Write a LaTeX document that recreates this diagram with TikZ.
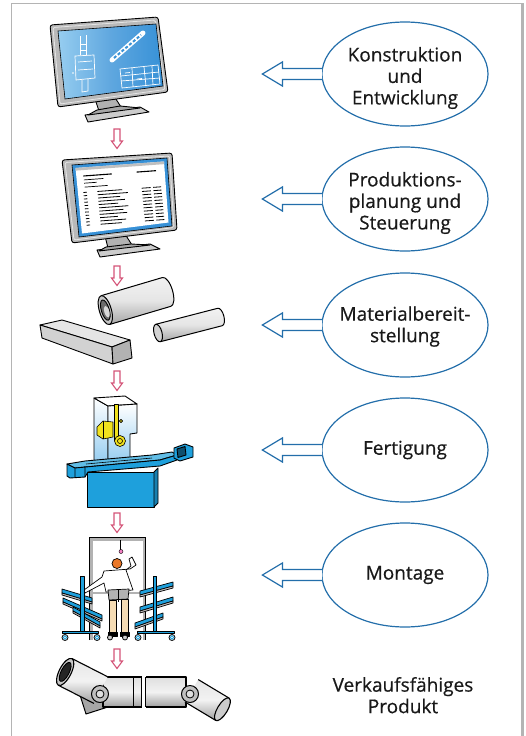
\documentclass[tikz,border=0pt]{standalone}
\usepackage{fontspec}
\setmainfont{Open Sans}
\newfontfamily\labelfont{Open Sans}[FakeBold=0.5]
\usetikzlibrary{shapes.geometric,calc}
\definecolor{eblue}{RGB}{35,110,170}
\definecolor{apink}{RGB}{212,84,120}
\definecolor{framegray}{RGB}{180,180,180}
\definecolor{scrA}{RGB}{55,145,215}
\definecolor{scrB}{RGB}{150,205,240}
\definecolor{mblue}{RGB}{30,160,220}
\definecolor{lblue}{RGB}{150,205,240}
\definecolor{myellow}{RGB}{240,225,30}
\definecolor{skin}{RGB}{245,220,180}
\definecolor{orangeh}{RGB}{235,120,40}
\tikzset{
  bubble/.style={ellipse, draw=eblue, line width=1.2pt, minimum width=166pt, minimum height=104pt, inner sep=0pt},
  btext/.style={align=center, inner sep=0pt, text=black!90, font=\labelfont\fontsize{19}{21.5}\selectfont},
  harrow/.style={draw=eblue, line width=1.2pt, line join=miter, fill=white},
  parrow/.style={draw=apink, line width=1.1pt, fill=white, line join=miter},
  outl/.style={draw=black, line width=0.9pt, line join=round},
  bezel/.style={outl, fill=gray!55, rounded corners=2.5pt},
}
\begin{document}
\begin{tikzpicture}[x=1pt,y=-1pt]
\useasboundingbox (0,0) rectangle (526,736);
% frame
\draw[framegray, line width=1pt] (11,736) -- (11,3.5) -- (523,3.5);
\draw[framegray, line width=2.6pt] (522.5,3) -- (522.5,736);

% ---------- ellipses ----------
\node[bubble] (e1) at (405,74) {};
\node[bubble] (e2) at (405,199) {};
\node[bubble] (e3) at (405,325) {};
\node[bubble] (e4) at (405,450) {};
\node[bubble] (e5) at (405,575) {};
\node[btext] (t1) at ($(e1)+(0,4)$) {Konstruktion\\und\\Entwicklung};
\node[btext] (t2) at ($(e2)+(0,4)$) {Produktions-\\planung und\\Steuerung};
\node[btext] (t3) at ($(e3)+(0,1.5)$) {Materialbereit-\\stellung};
\node[btext] (t4) at (e4) {Fertigung};
\node[btext] (t5) at (e5) {Montage};
\node[btext] (prod) at (403,695.2) {Verkaufsfähiges\\Produkt};

% hollow arrows from ellipses
\foreach \e in {e1,e2,e3,e4,e5}{
  \draw[harrow] ($(\e.west)+(0.6,-5.5)$) -- ++(-39.6,0) -- ++(0,-6.5) -- ++(-20,12) -- ++(20,12) -- ++(0,-6.5) -- ($(\e.west)+(0.6,5.5)$);
}

% pink down arrows
\foreach \n/\y in {p1/129,p2/266,p3/371,p4/513,p5/649}{
  \coordinate (\n) at (117,\y);
  \draw[parrow] ($(\n)+(-3,0)$) -- ++(0,12) -- ++(-2.5,0) -- ++(5.5,7.5) -- ++(5.5,-7.5) -- ++(-2.5,0) -- ++(0,-12) -- cycle;
}

% ---------- monitor 1 (CAD) ----------
\draw[outl, fill=gray!60] (95,99) -- (114,96) -- (121,107) -- (99,111) -- cycle;
\draw[outl, fill=gray!40] (85,115) -- (140,107) -- (149,112) -- (88,122) -- cycle;
\draw[outl, fill=gray!70] (97,110) -- (120,106) -- (140,108) -- (88,115) -- cycle;
\draw[bezel] (50,25) -- (158,17) -- (168,92) -- (58,107) -- cycle;
\draw[gray!20, line width=0.8pt, rounded corners=2pt] (53,27.5) -- (155.5,20) -- (165,89.5) -- (60,104) -- cycle;
\shade[left color=scrB, right color=scrA, middle color=scrA!80!white] (58,31) -- (156,24) -- (163,86) -- (65,99) -- cycle;
\draw[black, line width=0.6pt] (58,31) -- (156,24) -- (163,86) -- (65,99) -- cycle;
% drawings on screen
\begin{scope}[white, line width=0.7pt]
  \draw (80,36) -- (80,55) (86,35) -- (86,55) (80,44) -- (86,44) (80,50) -- (86,50);
  \draw (75,56) -- (94,55) -- (95,78) -- (76,80) -- cycle;
  \draw (78,62) -- (92,61) (78,70) -- (93,69);
  \draw (82,80) -- (82,92) -- (88,91) -- (88,79);
  \foreach \px/\py in {73,60 98,58 97,66 72,72 99,75 74,84 92,86 96,50 71,66 90,40}{
    \fill (\px,\py) circle (0.8pt);
  }
  \draw[line width=5pt, line cap=round] (112,60) -- (143,33);
  \draw[scrA, line width=2pt, dash pattern=on 3pt off 2pt] (114,58) -- (141,35);
  \draw (120,69) -- (158,65) -- (160,84) -- (122,88) -- cycle;
  \draw (121,76) -- (159,72) (121,81) -- (160,78) (132,68) -- (133,87) (144,67) -- (146,86) (152,66) -- (153,85);
  \draw (125,73) -- (130,72.5) (137,79) -- (142,78.5);
\end{scope}

% ---------- monitor 2 (PPS) ----------
\draw[outl, fill=gray!60] (105,236) -- (125,234) -- (132,245) -- (108,248) -- cycle;
\draw[outl, fill=gray!40] (97,250) -- (150,244) -- (160,249) -- (100,257) -- cycle;
\draw[outl, fill=gray!70] (106,247) -- (131,244) -- (150,245) -- (99,251) -- cycle;
\draw[bezel] (62,160) -- (172,153) -- (177,230) -- (72,243) -- cycle;
\draw[gray!20, line width=0.8pt, rounded corners=2pt] (65,162.5) -- (169.5,156) -- (174,227.5) -- (74,240) -- cycle;
\draw[black, line width=0.6pt, fill=scrA] (72,165) -- (167,158) -- (172,226) -- (79,237) -- cycle;
\fill[white] (75.5,168) -- (164,161.5) -- (168.5,222.5) -- (82,233.5) -- cycle;
\begin{scope}[shift={(75.5,168)}, x={(88.5pt,6.5pt)}, y={(6.5pt,-65.5pt)}]
  \fill[gray!50] (0,0) -- (1,0) -- (1,0.04) -- (0,0.04) -- cycle;
  \draw[black, line width=1.1pt] (0.08,0.13) -- (0.40,0.13) (0.68,0.13) -- (0.90,0.13);
  \draw[black, line width=0.7pt] (0.08,0.19) -- (0.30,0.19) (0.08,0.24) -- (0.22,0.24) (0.08,0.30) -- (0.34,0.30);
  \foreach \v/\l in {0.38/0.28,0.43/0.34,0.48/0.25,0.53/0.30,0.58/0.22,0.63/0.33,0.68/0.27,0.73/0.31,0.78/0.20,0.83/0.29,0.88/0.24}{
    \draw[black, line width=0.8pt] (0.22,\v) -- ({0.22+\l},\v);
    \draw[black, line width=0.8pt] (0.06,\v) -- (0.10,\v);
    \draw[black, line width=0.8pt] (0.72,\v) -- (0.82,\v) (0.85,\v) -- (0.94,\v);
  }
\end{scope}

% ---------- materials ----------
% block
\draw[outl, fill=gray!20] (40,325) -- (62,320) -- (130,340) -- (112,347) -- cycle;
\draw[outl, fill=gray!35] (40,325) -- (112,347) -- (113,364) -- (42,338) -- cycle;
\draw[outl, fill=gray!60] (112,347) -- (130,340) -- (132,358) -- (113,364) -- cycle;
% tube
\begin{scope}[shift={(136,301)}, rotate=16.5]
  \shade[top color=gray!10, bottom color=gray!70, middle color=gray!20] (-32,-15) -- (32,-15) arc[start angle=-90, end angle=90, x radius=6, y radius=15] -- (-32,15) -- cycle;
  \draw[outl, line width=1pt] (-32,-15) -- (32,-15) arc[start angle=-90, end angle=90, x radius=6, y radius=15] -- (-32,15);
  \draw[outl, line width=1pt, fill=gray!45] (-32,0) ellipse[x radius=6, y radius=15];
  \draw[outl, fill=gray!85!black] (-32,0) ellipse[x radius=4, y radius=10.5];
  \fill[gray!30] (-31,2) ellipse[x radius=2.5, y radius=6];
\end{scope}
% rod
\begin{scope}[shift={(189,325)}, rotate=14.5]
  \shade[top color=gray!10, bottom color=gray!70, middle color=gray!20] (-32,-9) -- (32,-9) arc[start angle=-90, end angle=90, x radius=4, y radius=9] -- (-32,9) -- cycle;
  \draw[outl, line width=1pt] (-32,-9) -- (32,-9) arc[start angle=-90, end angle=90, x radius=4, y radius=9] -- (-32,9);
  \draw[outl, line width=1pt, fill=gray!35] (-32,0) ellipse[x radius=4, y radius=9];
\end{scope}

% ---------- machine ----------
\shade[top color=white, bottom color=lblue] (94,398) -- (108,406) -- (108,462) -- (94,462) -- cycle;
\draw[outl] (94,398) -- (108,406) -- (108,462) -- (94,462) -- cycle;
\draw[outl, fill=white] (94,398) -- (125,396) -- (137,404) -- (108,406) -- cycle;
\shade[top color=white, bottom color=lblue] (108,406) -- (137,404) -- (137,433) -- (130,434) -- (130,462) -- (108,462) -- cycle;
\draw[outl] (108,406) -- (137,404) -- (137,433) -- (130,434) -- (130,462) -- (108,462) -- cycle;
% yellow head
\draw[outl, line width=0.6pt, fill=myellow] (114.5,404) rectangle (118.5,440);
\draw[outl, line width=0.6pt, fill=myellow] (121,421) circle (1.6);
\draw[outl, line width=0.6pt, fill=myellow] (97,427) -- (103,421) -- (113,422) -- (113,437) -- (103,439) -- (97,435) -- cycle;
\draw[outl, line width=0.6pt] (103,421) -- (103,439);
\draw[outl, line width=0.6pt, fill=myellow] (120,441) circle (5.5);
\draw[outl, line width=0.6pt] (120,441) circle (2.5);
% base
\draw[outl, fill=mblue] (87,472) rectangle (154,507);
\draw[outl, fill=mblue!80!black] (154,472) -- (158,468) -- (158,503) -- (154,507) -- cycle;
% table
\draw[outl, fill=mblue!70!white] (67,464) -- (85,461) -- (152,455) -- (172,452) -- (177,455) -- (160,460) -- (75,468) -- cycle;
\draw[outl, fill=mblue] (67,464) -- (75,468) -- (160,460) -- (177,455) -- (177,460) -- (160,466) -- (88,472) -- (85,477) -- (70,478) -- (67,476) -- cycle;
\draw[outl, line width=0.6pt] (75,468) -- (75,477) (85,466) -- (85,477) (86,464) -- (152,458);
\draw[outl, fill=mblue] (174,448) -- (185,444) -- (193,447) -- (193,457) -- (180,461) -- (174,458) -- cycle;
\draw[outl, fill=mblue!50!black] (177,449) -- (185,446.5) -- (186,455) -- (178,457.5) -- cycle;

% ---------- assembly station ----------
\draw[gray!60, line width=3pt] (91,640) -- (91,539) -- (144,539) -- (144,640);
\draw[black, line width=0.4pt] (89.5,640) -- (89.5,537.5) -- (145.5,537.5) -- (145.5,640);
\draw[gray!60, line width=2.5pt] (91,593) -- (144,593);
\draw[black, line width=0.5pt] (120,540) -- (120,550);
\draw[black, line width=0.4pt, fill=magenta!50] (121,551.5) circle (2);
% worker
\draw[outl, line width=0.7pt, fill=white] (104,571) -- (130,569) -- (136,565) -- (132,557) -- (129,559) -- (131,566) -- (126,570) -- (133,590) -- (106,592) -- (104,583) -- (85,593) -- (84,590) -- (102,577) -- cycle;
\draw[outl, line width=0.7pt, fill=orangeh] (117,563.5) circle (5);
\draw[outl, line width=0.7pt, fill=gray!60] (108,590) -- (129,589) -- (128,599) -- (109,600) -- cycle;
\draw[outl, line width=0.7pt, fill=skin] (109,600) rectangle (116,632);
\draw[outl, line width=0.7pt, fill=skin] (121,599) rectangle (128,632);
\draw[outl, line width=0.6pt, fill=black] (108,632) rectangle (117,636);
\draw[outl, line width=0.6pt, fill=black] (120,632) rectangle (129,636);
\draw[black, line width=1pt] (118,590) -- (118,602);
% left rack
\foreach \a/\b/\c/\d in {62/589/92/598, 63/598/102/615, 73/607/100/622}{
  \draw[outl, line width=0.7pt, fill=mblue] (\a,\b) -- (\c,\d) -- (\c,\d+4) -- (\a,\b+4) -- cycle;
  \draw[outl, line width=0.7pt, fill=gray!50] (\a,\b+4) -- (\c,\d+4) -- (\c,\d+6) -- (\a,\b+6) -- cycle;
}
\draw[outl, line width=0.6pt, fill=mblue] (80.5,576) rectangle (84,633);
\draw[outl, line width=0.6pt, fill=mblue] (62,631) rectangle (98,633.5);
% right rack
\foreach \a/\b/\c/\d in {140/591/173/582, 140/607/173/597, 135/623/163/613}{
  \draw[outl, line width=0.7pt, fill=mblue] (\a,\b) -- (\c,\d) -- (\c,\d+4) -- (\a,\b+4) -- cycle;
  \draw[outl, line width=0.7pt, fill=gray!50] (\a,\b+4) -- (\c,\d+4) -- (\c,\d+6) -- (\a,\b+6) -- cycle;
}
\draw[outl, line width=0.6pt, fill=mblue] (153,576) rectangle (156.5,633);
\draw[outl, line width=0.6pt, fill=mblue] (137,631) rectangle (174,633.5);
% wheels
\foreach \wx in {65,97,138,172}{
  \draw[black, line width=0.8pt, fill=white] (\wx,637.5) circle (3);
  \draw[mblue, line width=0.8pt] (\wx,637.5) circle (1.8);
}
\foreach \wx in {110,125}{
  \draw[black, line width=0.8pt, fill=gray!40] (\wx,637.5) circle (2.5);
}

% ---------- product (cardan shaft) ----------
\draw[outl, line width=1pt, fill=gray!70] (80,695) -- (106,688) -- (111,706) -- (86,714) -- cycle;
\shade[top color=gray!25, bottom color=gray!75, middle color=gray!10] (103,677) rectangle (186,707);
\draw[outl, line width=1.1pt] (103,677) rectangle (186,707);
\draw[outl, line width=0.8pt] (133,677) -- (133,707);
\fill[white] (141.5,675) rectangle (145.5,709);
\draw[outl, line width=0.8pt] (141.5,677) -- (141.5,707) (145.5,677) -- (145.5,707);
\begin{scope}[shift={(83,681)}, rotate=-27]
  \shade[top color=gray!20, bottom color=gray!75, middle color=gray!10] (-20,-15) -- (20,-15) -- (20,15) -- (-20,15) -- cycle;
  \draw[outl, line width=1.1pt] (-20,-15) -- (20,-15) (20,15) -- (-20,15);
  \draw[outl, line width=1.1pt, fill=gray!45] (-20,0) ellipse[x radius=6, y radius=15];
  \draw[outl, fill=black!85] (-20,0) ellipse[x radius=4, y radius=10.5];
\end{scope}
\draw[outl, line width=1pt, fill=gray!50] (100,694) circle (8.5);
\draw[outl, line width=0.8pt, fill=gray!25] (100,694) circle (4);
\begin{scope}[shift={(207,700)}, rotate=-31]
  \shade[top color=gray!20, bottom color=gray!75, middle color=gray!10] (-18,-13) -- (18,-13) -- (18,13) -- (-18,13) -- cycle;
  \draw[outl, line width=1.1pt] (-18,-13) -- (18,-13) (18,13) -- (-18,13);
  \draw[outl, line width=1.1pt, fill=gray!40] (18,0) ellipse[x radius=5, y radius=13];
\end{scope}
\draw[outl, line width=1pt, fill=gray!50] (190,694) circle (8.5);
\draw[outl, line width=0.8pt, fill=gray!25] (190,694) circle (4);
\end{tikzpicture}
\end{document}
